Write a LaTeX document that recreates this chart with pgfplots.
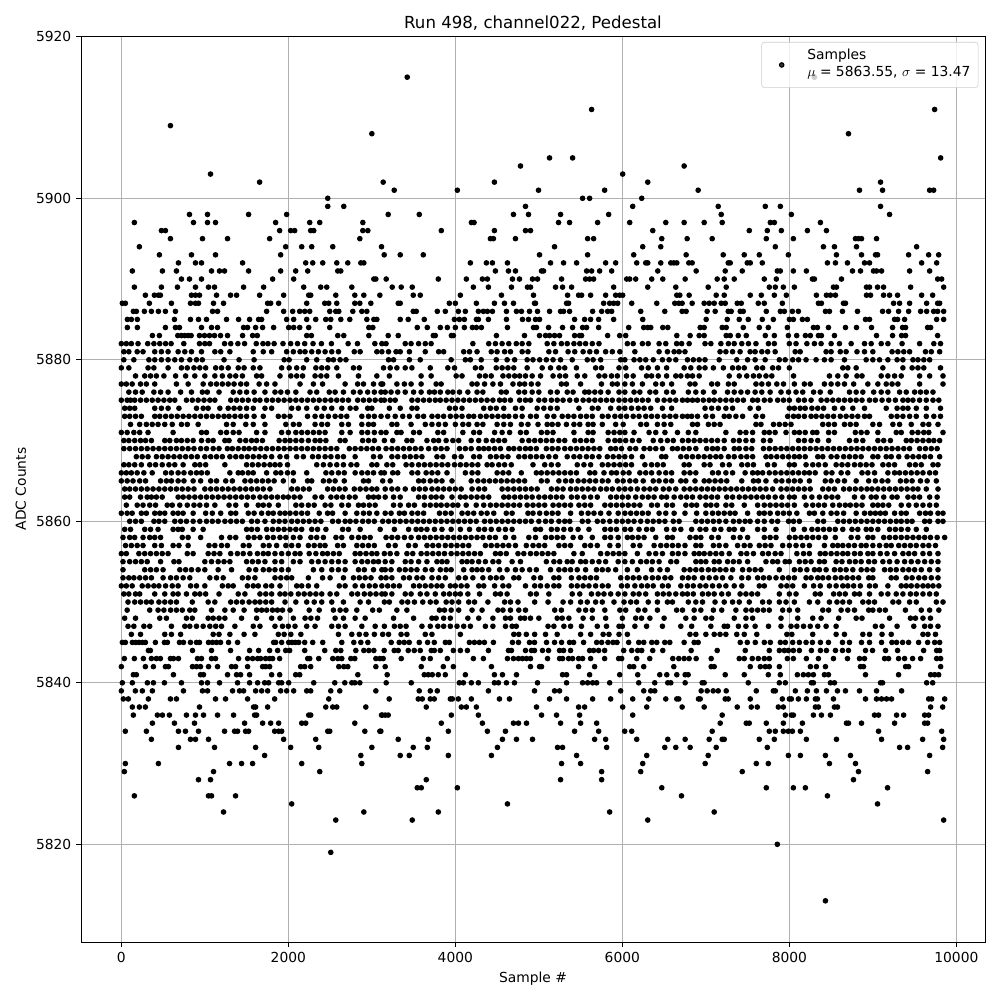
\documentclass[border=0pt]{standalone}
\usepackage{pgfplots}
\pgfplotsset{compat=1.18}
\usepackage{fontspec}
\setmainfont{DejaVu Sans}
\setsansfont{DejaVu Sans}
\pgfplotstableread{
x y
3424 5915
8300 5915
5632 5911
9740 5911
588 5909
3000 5908
8708 5908
5128 5905
5404 5905
9812 5905
4780 5904
6740 5904
1068 5903
6004 5903
1656 5902
3136 5902
4468 5902
6304 5902
9092 5902
3268 5901
4024 5901
4996 5901
5788 5901
6908 5901
8840 5901
9116 5901
9680 5901
9728 5901
2472 5900
5524 5900
5608 5900
6232 5900
2472 5899
2664 5899
4840 5899
6124 5899
7148 5899
7712 5899
7892 5899
9092 5899
816 5898
1032 5898
1524 5898
1980 5898
3196 5898
3568 5898
4696 5898
4876 5898
5260 5898
5836 5898
7184 5898
8024 5898
9200 5898
156 5897
864 5897
1032 5897
1128 5897
1848 5897
2256 5897
2376 5897
2892 5897
4192 5897
4224 5897
5236 5897
5368 5897
5704 5897
6088 5897
6520 5897
6740 5897
6980 5897
7196 5897
7772 5897
7820 5897
8372 5897
480 5896
528 5896
1896 5896
2028 5896
2076 5896
2268 5896
2304 5896
2892 5896
2952 5896
3832 5896
4468 5896
4840 5896
4900 5896
6364 5896
7520 5896
7736 5896
7904 5896
8216 5896
8444 5896
588 5895
972 5895
1272 5895
1776 5895
2856 5895
4420 5895
4456 5895
4720 5895
5584 5895
5656 5895
6472 5895
6776 5895
7076 5895
7724 5895
8048 5895
8792 5895
8828 5895
8864 5895
9044 5895
216 5894
1968 5894
2160 5894
2280 5894
2532 5894
3116 5894
5188 5894
6244 5894
6460 5894
7832 5894
8408 5894
8540 5894
8804 5894
9524 5894
456 5893
840 5893
1128 5893
1908 5893
3148 5893
3340 5893
3616 5893
5008 5893
5584 5893
6136 5893
6764 5893
7208 5893
7460 5893
7640 5893
7988 5893
8564 5893
8864 5893
9032 5893
9056 5893
9428 5893
9668 5893
9788 5893
684 5892
888 5892
960 5892
1452 5892
2208 5892
2292 5892
2412 5892
2580 5892
2712 5892
2868 5892
2904 5892
4180 5892
4372 5892
4444 5892
4624 5892
5140 5892
5296 5892
5452 5892
5800 5892
5920 5892
6172 5892
6280 5892
6304 5892
6460 5892
6580 5892
6616 5892
6652 5892
6796 5892
6836 5892
7268 5892
7292 5892
7496 5892
7532 5892
7676 5892
8456 5892
8552 5892
8696 5892
8900 5892
8960 5892
9584 5892
9764 5892
132 5891
492 5891
660 5891
1080 5891
1176 5891
1236 5891
1524 5891
1908 5891
2088 5891
2232 5891
2592 5891
2628 5891
4480 5891
4636 5891
4720 5891
5032 5891
5056 5891
5572 5891
5632 5891
5728 5891
5872 5891
6424 5891
6884 5891
7232 5891
7436 5891
7856 5891
7892 5891
8048 5891
8204 5891
8756 5891
8852 5891
9008 5891
9044 5891
9104 5891
9440 5891
9680 5891
720 5890
816 5890
960 5890
1812 5890
2064 5890
3024 5890
3048 5890
3172 5890
3796 5890
4132 5890
4324 5890
4384 5890
4684 5890
4768 5890
4924 5890
4984 5890
5272 5890
5560 5890
5608 5890
5656 5890
6052 5890
6088 5890
6160 5890
6352 5890
6484 5890
6752 5890
7136 5890
7220 5890
7340 5890
7700 5890
7844 5890
8276 5890
8300 5890
8624 5890
9776 5890
9824 5890
156 5889
480 5889
672 5889
888 5889
1044 5889
1116 5889
1464 5889
1704 5889
2184 5889
2388 5889
2460 5889
2760 5889
3244 5889
3352 5889
3484 5889
4216 5889
4396 5889
4672 5889
4864 5889
4900 5889
5200 5889
5284 5889
5392 5889
5896 5889
6304 5889
6640 5889
7028 5889
7244 5889
7760 5889
7832 5889
7928 5889
8060 5889
8528 5889
8564 5889
8924 5889
8960 5889
9056 5889
9128 5889
9452 5889
9848 5889
288 5888
396 5888
444 5888
468 5888
840 5888
888 5888
936 5888
1140 5888
1308 5888
1380 5888
1656 5888
1944 5888
2244 5888
2268 5888
2568 5888
2796 5888
2904 5888
3096 5888
3496 5888
3580 5888
4060 5888
4552 5888
4936 5888
5344 5888
5476 5888
5512 5888
5620 5888
5800 5888
5920 5888
5968 5888
6004 5888
6652 5888
6688 5888
6800 5888
7124 5888
7220 5888
7532 5888
7664 5888
7820 5888
7964 5888
8324 5888
8444 5888
8492 5888
8552 5888
8924 5888
8972 5888
9128 5888
9200 5888
9296 5888
9584 5888
9716 5888
12 5887
48 5887
336 5887
600 5887
828 5887
888 5887
924 5887
1104 5887
1224 5887
1752 5887
1788 5887
1884 5887
2220 5887
2436 5887
2484 5887
2580 5887
2796 5887
2856 5887
2988 5887
3316 5887
3340 5887
3928 5887
4000 5887
4252 5887
4468 5887
4588 5887
4696 5887
4948 5887
4960 5887
5332 5887
5356 5887
5776 5887
5848 5887
5896 5887
5944 5887
6112 5887
6412 5887
6628 5887
6676 5887
6716 5887
6836 5887
6980 5887
7040 5887
7100 5887
7184 5887
7232 5887
7376 5887
7424 5887
7628 5887
7700 5887
7916 5887
8348 5887
8384 5887
8648 5887
8672 5887
9248 5887
9320 5887
9440 5887
9644 5887
9776 5887
9800 5887
144 5886
180 5886
276 5886
360 5886
444 5886
528 5886
648 5886
1092 5886
1152 5886
1740 5886
1944 5886
2052 5886
2136 5886
2196 5886
2256 5886
2496 5886
2568 5886
2604 5886
2772 5886
2880 5886
2940 5886
3496 5886
3532 5886
3784 5886
3880 5886
4036 5886
4120 5886
4276 5886
4336 5886
4384 5886
4444 5886
4612 5886
4732 5886
4792 5886
4888 5886
4984 5886
5128 5886
5260 5886
5296 5886
5368 5886
5644 5886
5752 5886
5824 5886
5872 5886
6220 5886
6508 5886
6716 5886
6764 5886
7016 5886
7112 5886
7268 5886
7304 5886
7412 5886
7448 5886
7724 5886
7892 5886
7940 5886
8036 5886
8108 5886
8432 5886
8480 5886
8636 5886
8816 5886
9116 5886
9188 5886
9308 5886
9428 5886
9572 5886
9644 5886
9728 5886
9776 5886
9848 5886
72 5885
120 5885
192 5885
636 5885
828 5885
924 5885
1020 5885
1260 5885
1404 5885
1536 5885
1644 5885
1680 5885
1980 5885
2064 5885
2220 5885
2328 5885
2448 5885
2508 5885
2628 5885
2736 5885
2940 5885
3024 5885
3060 5885
3340 5885
3436 5885
3628 5885
3988 5885
4048 5885
4108 5885
4252 5885
4276 5885
4396 5885
4612 5885
4804 5885
4876 5885
4960 5885
5008 5885
5428 5885
5548 5885
5620 5885
5716 5885
5896 5885
6244 5885
7004 5885
7256 5885
7400 5885
7508 5885
7676 5885
7808 5885
8000 5885
8048 5885
8156 5885
8216 5885
8912 5885
8960 5885
9260 5885
9296 5885
9380 5885
9764 5885
9848 5885
72 5884
192 5884
528 5884
648 5884
696 5884
960 5884
1080 5884
1152 5884
1464 5884
1512 5884
1608 5884
1692 5884
1824 5884
2004 5884
2064 5884
2136 5884
2244 5884
2496 5884
2964 5884
3012 5884
3544 5884
3664 5884
3820 5884
3904 5884
4000 5884
4108 5884
4204 5884
4252 5884
4312 5884
4624 5884
4936 5884
4972 5884
5116 5884
5284 5884
5404 5884
5524 5884
5572 5884
5716 5884
6076 5884
6256 5884
6304 5884
6340 5884
6484 5884
6544 5884
6932 5884
6980 5884
7196 5884
7244 5884
7448 5884
7640 5884
7748 5884
7976 5884
8288 5884
8336 5884
8468 5884
8672 5884
8804 5884
8984 5884
9236 5884
9356 5884
9392 5884
9656 5884
9692 5884
372 5883
456 5883
676 5883
720 5883
760 5883
800 5883
836 5883
936 5883
996 5883
1056 5883
1116 5883
1188 5883
1272 5883
1452 5883
1572 5883
1628 5883
2220 5883
2276 5883
2592 5883
2664 5883
2964 5883
3196 5883
3316 5883
3736 5883
3760 5883
3952 5883
3976 5883
4492 5883
4828 5883
5008 5883
5080 5883
5128 5883
5188 5883
5248 5883
5428 5883
5488 5883
5512 5883
5824 5883
5968 5883
6040 5883
6652 5883
6812 5883
6920 5883
6980 5883
7244 5883
7292 5883
7388 5883
7484 5883
7712 5883
7820 5883
7988 5883
8088 5883
8192 5883
8252 5883
8348 5883
8384 5883
8540 5883
9044 5883
9236 5883
9344 5883
9392 5883
9776 5883
0 5882
60 5882
120 5882
200 5882
316 5882
390 5882
460 5882
530 5882
596 5882
748 5882
936 5882
1000 5882
1056 5882
1236 5882
1310 5882
1396 5882
1476 5882
1616 5882
1696 5882
1756 5882
1830 5882
1936 5882
2028 5882
2110 5882
2196 5882
2296 5882
2396 5882
2516 5882
2716 5882
2828 5882
3036 5882
3120 5882
3170 5882
3400 5882
3470 5882
3560 5882
3640 5882
3710 5882
4210 5882
4400 5882
4480 5882
4560 5882
4640 5882
4730 5882
4800 5882
4880 5882
5100 5882
5180 5882
5270 5882
5340 5882
5420 5882
5490 5882
5560 5882
5640 5882
5720 5882
6060 5882
6130 5882
6240 5882
6310 5882
6440 5882
6520 5882
6650 5882
6710 5882
6800 5882
6990 5882
7060 5882
7180 5882
7270 5882
7340 5882
7430 5882
7510 5882
7600 5882
7750 5882
7820 5882
8000 5882
8080 5882
8210 5882
8300 5882
8380 5882
8500 5882
8600 5882
8740 5882
8900 5882
8980 5882
9100 5882
9180 5882
9350 5882
9560 5882
9730 5882
9810 5882
30 5881
90 5881
190 5881
260 5881
400 5881
480 5881
560 5881
680 5881
760 5881
840 5881
960 5881
1120 5881
1190 5881
1300 5881
1580 5881
1700 5881
1800 5881
1980 5881
2060 5881
2140 5881
2200 5881
2280 5881
2360 5881
2440 5881
2520 5881
2600 5881
2790 5881
2860 5881
3060 5881
3120 5881
3200 5881
3290 5881
3340 5881
3450 5881
3640 5881
3800 5881
3860 5881
4100 5881
4170 5881
4260 5881
4430 5881
4500 5881
4590 5881
4660 5881
4800 5881
4870 5881
5120 5881
5200 5881
5350 5881
5430 5881
5530 5881
5610 5881
5690 5881
5800 5881
5880 5881
5970 5881
6150 5881
6440 5881
6540 5881
6620 5881
6680 5881
6750 5881
7170 5881
7240 5881
7320 5881
7410 5881
7530 5881
7590 5881
7670 5881
7740 5881
7830 5881
8070 5881
8130 5881
8440 5881
8500 5881
8610 5881
8680 5881
8810 5881
8900 5881
9000 5881
9230 5881
9300 5881
9370 5881
9440 5881
9630 5881
9700 5881
9800 5881
30 5880
150 5880
330 5880
400 5880
480 5880
560 5880
640 5880
720 5880
820 5880
900 5880
970 5880
1230 5880
1410 5880
1590 5880
1950 5880
2010 5880
2220 5880
2340 5880
2480 5880
2540 5880
2620 5880
2690 5880
3200 5880
3260 5880
3450 5880
3580 5880
3950 5880
4120 5880
4180 5880
4310 5880
4490 5880
4620 5880
4710 5880
4860 5880
4930 5880
5010 5880
5090 5880
5170 5880
5260 5880
5400 5880
5580 5880
5650 5880
5740 5880
5980 5880
6030 5880
6140 5880
6210 5880
6280 5880
6370 5880
6480 5880
6560 5880
6640 5880
6780 5880
6850 5880
6920 5880
6990 5880
7160 5880
7370 5880
7500 5880
7590 5880
7710 5880
7880 5880
7950 5880
8040 5880
8110 5880
8200 5880
8320 5880
8420 5880
8500 5880
8660 5880
8920 5880
9000 5880
9080 5880
9180 5880
9290 5880
9360 5880
9480 5880
9540 5880
9610 5880
9680 5880
0 5879
90 5879
320 5879
390 5879
560 5879
720 5879
790 5879
870 5879
940 5879
1010 5879
1130 5879
1200 5879
1280 5879
1400 5879
1470 5879
1580 5879
1660 5879
1920 5879
2010 5879
2100 5879
2180 5879
2330 5879
2400 5879
2470 5879
2580 5879
2780 5879
2850 5879
3140 5879
3220 5879
3300 5879
3400 5879
3480 5879
3700 5879
3910 5879
3990 5879
4240 5879
4310 5879
4490 5879
4560 5879
4630 5879
4700 5879
4860 5879
5040 5879
5140 5879
5240 5879
5310 5879
5450 5879
5680 5879
5750 5879
5960 5879
6040 5879
6230 5879
6310 5879
6420 5879
6530 5879
6740 5879
6820 5879
6920 5879
6990 5879
7090 5879
7210 5879
7320 5879
7390 5879
7460 5879
7610 5879
7680 5879
7800 5879
7870 5879
8000 5879
8640 5879
8700 5879
8800 5879
9120 5879
9360 5879
9470 5879
9540 5879
9610 5879
9810 5879
170 5878
280 5878
350 5878
420 5878
510 5878
650 5878
770 5878
880 5878
1000 5878
1120 5878
1210 5878
1300 5878
1370 5878
1450 5878
1620 5878
1680 5878
1900 5878
2030 5878
2100 5878
2170 5878
2320 5878
2390 5878
2460 5878
2600 5878
2840 5878
3060 5878
3210 5878
3590 5878
3710 5878
4010 5878
4080 5878
4290 5878
4360 5878
4430 5878
4570 5878
4640 5878
4710 5878
4770 5878
4840 5878
4920 5878
5020 5878
5170 5878
5250 5878
5320 5878
5460 5878
5550 5878
5720 5878
5790 5878
5870 5878
5940 5878
6050 5878
6130 5878
6290 5878
6350 5878
6430 5878
6530 5878
6640 5878
6700 5878
6780 5878
6840 5878
6920 5878
7280 5878
7400 5878
7490 5878
7570 5878
7640 5878
7720 5878
7790 5878
8050 5878
8480 5878
8580 5878
8680 5878
8810 5878
8870 5878
9100 5878
9180 5878
9260 5878
9340 5878
9560 5878
9680 5878
9840 5878
0 5877
60 5877
130 5877
230 5877
300 5877
400 5877
660 5877
800 5877
980 5877
1070 5877
1140 5877
1210 5877
1280 5877
1350 5877
1430 5877
1500 5877
1650 5877
1740 5877
1840 5877
2140 5877
2300 5877
2410 5877
2680 5877
2830 5877
2900 5877
3020 5877
3110 5877
3130 5877
3300 5877
3390 5877
3470 5877
3590 5877
3770 5877
3830 5877
4200 5877
4260 5877
4350 5877
4450 5877
4540 5877
4690 5877
4770 5877
4830 5877
4910 5877
4990 5877
5270 5877
5330 5877
5500 5877
5750 5877
5880 5877
5940 5877
6030 5877
6120 5877
6240 5877
6400 5877
6480 5877
6590 5877
6810 5877
6870 5877
7070 5877
7140 5877
7270 5877
7340 5877
7600 5877
7670 5877
7750 5877
7850 5877
7930 5877
8060 5877
8180 5877
8250 5877
8420 5877
8500 5877
8580 5877
8660 5877
8770 5877
8940 5877
9060 5877
9160 5877
9230 5877
9300 5877
9560 5877
9840 5877
90 5876
170 5876
250 5876
390 5876
470 5876
560 5876
710 5876
840 5876
970 5876
1030 5876
1170 5876
1340 5876
1420 5876
1500 5876
1590 5876
1720 5876
1840 5876
1910 5876
1990 5876
2090 5876
2260 5876
2340 5876
2490 5876
2560 5876
2660 5876
2780 5876
2860 5876
2950 5876
3030 5876
3110 5876
3160 5876
3230 5876
3310 5876
3400 5876
3500 5876
3590 5876
3690 5876
3750 5876
3820 5876
3910 5876
3970 5876
4050 5876
4150 5876
4260 5876
4330 5876
4550 5876
4610 5876
4760 5876
4830 5876
4920 5876
5000 5876
5140 5876
5220 5876
5340 5876
5410 5876
5550 5876
5600 5876
5670 5876
5740 5876
5830 5876
5960 5876
6030 5876
6140 5876
6210 5876
6330 5876
6400 5876
6530 5876
6610 5876
6790 5876
6880 5876
6970 5876
7100 5876
7260 5876
7340 5876
7420 5876
7500 5876
7590 5876
7670 5876
7770 5876
7900 5876
7990 5876
8080 5876
8160 5876
8290 5876
8370 5876
8490 5876
8720 5876
8800 5876
8880 5876
9010 5876
9100 5876
9180 5876
9320 5876
9400 5876
9500 5876
9570 5876
9640 5876
9720 5876
0 5875
70 5875
110 5875
160 5875
230 5875
300 5875
370 5875
440 5875
510 5875
580 5875
640 5875
780 5875
850 5875
920 5875
990 5875
1060 5875
1120 5875
1310 5875
1380 5875
1450 5875
1520 5875
1600 5875
1660 5875
1740 5875
1810 5875
1880 5875
1950 5875
2020 5875
2090 5875
2160 5875
2230 5875
2300 5875
2370 5875
2440 5875
2510 5875
2580 5875
2650 5875
2720 5875
2830 5875
2900 5875
2970 5875
3040 5875
3110 5875
3150 5875
3220 5875
3280 5875
3480 5875
3550 5875
3620 5875
3690 5875
3760 5875
3820 5875
3890 5875
3960 5875
4030 5875
4100 5875
4170 5875
4240 5875
4310 5875
4380 5875
4450 5875
4530 5875
4590 5875
4660 5875
4770 5875
4840 5875
4900 5875
5000 5875
5070 5875
5150 5875
5220 5875
5290 5875
5370 5875
5450 5875
5530 5875
5600 5875
5670 5875
5740 5875
5810 5875
5880 5875
5960 5875
6030 5875
6100 5875
6170 5875
6240 5875
6310 5875
6420 5875
6500 5875
6570 5875
6640 5875
6720 5875
6780 5875
6840 5875
6900 5875
6970 5875
7040 5875
7100 5875
7170 5875
7240 5875
7310 5875
7380 5875
7450 5875
7560 5875
7620 5875
7700 5875
7770 5875
7860 5875
7930 5875
8000 5875
8110 5875
8180 5875
8260 5875
8380 5875
8450 5875
8520 5875
8590 5875
8660 5875
8730 5875
8800 5875
8870 5875
8960 5875
9030 5875
9110 5875
9190 5875
9270 5875
9360 5875
9420 5875
9480 5875
9560 5875
9640 5875
9720 5875
9790 5875
40 5874
100 5874
160 5874
400 5874
480 5874
560 5874
690 5874
900 5874
980 5874
1040 5874
1180 5874
1280 5874
1350 5874
1420 5874
1500 5874
1580 5874
1720 5874
1800 5874
2040 5874
2120 5874
2220 5874
2340 5874
2430 5874
2520 5874
2640 5874
2740 5874
2810 5874
2950 5874
3000 5874
3210 5874
3340 5874
3480 5874
3540 5874
3930 5874
4000 5874
4080 5874
4340 5874
4420 5874
4490 5874
4580 5874
4720 5874
4800 5874
4980 5874
5060 5874
5140 5874
5220 5874
5480 5874
5640 5874
5710 5874
5860 5874
5960 5874
6030 5874
6110 5874
6190 5874
6260 5874
6340 5874
6480 5874
6590 5874
6990 5874
7070 5874
7150 5874
7240 5874
7320 5874
7530 5874
7630 5874
8000 5874
8060 5874
8130 5874
8190 5874
8270 5874
8340 5874
8410 5874
8540 5874
8640 5874
8760 5874
8900 5874
9160 5874
9290 5874
9360 5874
9420 5874
9520 5874
9640 5874
9810 5874
40 5873
100 5873
170 5873
240 5873
400 5873
460 5873
530 5873
600 5873
670 5873
740 5873
810 5873
880 5873
950 5873
1020 5873
1090 5873
1160 5873
1230 5873
1290 5873
1360 5873
1430 5873
1500 5873
1590 5873
1700 5873
1880 5873
1950 5873
2020 5873
2230 5873
2320 5873
2400 5873
2480 5873
2560 5873
2630 5873
2700 5873
2880 5873
2960 5873
3030 5873
3110 5873
3190 5873
3280 5873
3370 5873
3450 5873
3550 5873
3620 5873
3720 5873
3790 5873
3860 5873
3940 5873
4010 5873
4080 5873
4160 5873
4220 5873
4300 5873
4370 5873
4440 5873
4510 5873
4580 5873
4640 5873
4720 5873
4800 5873
4900 5873
4970 5873
5100 5873
5180 5873
5280 5873
5350 5873
5420 5873
5500 5873
5570 5873
5640 5873
5760 5873
5830 5873
5910 5873
5980 5873
6050 5873
6130 5873
6200 5873
6280 5873
6350 5873
6420 5873
6500 5873
6570 5873
6640 5873
6720 5873
6780 5873
6830 5873
6900 5873
7000 5873
7080 5873
7220 5873
7280 5873
7360 5873
7440 5873
7600 5873
7680 5873
7980 5873
8050 5873
8110 5873
8180 5873
8260 5873
8320 5873
8390 5873
8460 5873
8530 5873
8610 5873
8680 5873
8750 5873
8820 5873
8900 5873
8960 5873
9220 5873
9290 5873
9360 5873
9440 5873
9520 5873
9640 5873
9730 5873
9810 5873
110 5872
220 5872
300 5872
370 5872
440 5872
520 5872
610 5872
720 5872
790 5872
920 5872
1260 5872
1340 5872
1490 5872
1580 5872
1720 5872
1970 5872
2060 5872
2130 5872
2320 5872
2400 5872
2470 5872
2640 5872
2720 5872
2880 5872
2960 5872
3020 5872
3240 5872
3300 5872
3470 5872
3640 5872
3720 5872
3800 5872
3880 5872
4000 5872
4090 5872
4160 5872
4260 5872
4330 5872
4500 5872
4580 5872
4660 5872
4790 5872
4870 5872
4990 5872
5100 5872
5160 5872
5230 5872
5330 5872
5420 5872
5490 5872
5590 5872
5650 5872
5760 5872
5920 5872
6010 5872
6220 5872
6290 5872
6420 5872
6500 5872
6580 5872
6840 5872
6900 5872
7030 5872
7100 5872
7170 5872
7600 5872
7660 5872
7810 5872
7880 5872
7950 5872
8020 5872
8400 5872
8470 5872
8540 5872
8660 5872
8730 5872
8800 5872
9000 5872
9080 5872
9240 5872
9320 5872
9460 5872
9600 5872
9670 5872
9780 5872
0 5871
70 5871
150 5871
220 5871
320 5871
620 5871
960 5871
1020 5871
1190 5871
1260 5871
1340 5871
1410 5871
1620 5871
1720 5871
1920 5871
2000 5871
2090 5871
2160 5871
2230 5871
2300 5871
2370 5871
2440 5871
2640 5871
2740 5871
2880 5871
2950 5871
3030 5871
3110 5871
3170 5871
3300 5871
3350 5871
3500 5871
3570 5871
3790 5871
3860 5871
4090 5871
4220 5871
4290 5871
4470 5871
4560 5871
4650 5871
4780 5871
4850 5871
5030 5871
5100 5871
5170 5871
5420 5871
5590 5871
5650 5871
5830 5871
5900 5871
5970 5871
6030 5871
6140 5871
6320 5871
6400 5871
6510 5871
6660 5871
6790 5871
6880 5871
7240 5871
7410 5871
7480 5871
7560 5871
7700 5871
7760 5871
7830 5871
7960 5871
8060 5871
8120 5871
8190 5871
8280 5871
8330 5871
8470 5871
8540 5871
8790 5871
8860 5871
8930 5871
9060 5871
9280 5871
9340 5871
9470 5871
9540 5871
9610 5871
9670 5871
9840 5871
30 5870
90 5870
160 5870
230 5870
290 5870
360 5870
520 5870
580 5870
660 5870
720 5870
790 5870
860 5870
960 5870
1040 5870
1100 5870
1240 5870
1290 5870
1420 5870
1490 5870
1560 5870
1620 5870
1690 5870
1890 5870
1960 5870
2020 5870
2090 5870
2160 5870
2240 5870
2320 5870
2380 5870
2450 5870
2620 5870
2680 5870
2890 5870
2960 5870
3030 5870
3150 5870
3250 5870
3420 5870
3480 5870
3660 5870
3740 5870
3800 5870
3890 5870
3970 5870
4040 5870
4190 5870
4280 5870
4370 5870
4450 5870
4520 5870
4590 5870
4800 5870
4880 5870
4950 5870
5020 5870
5090 5870
5160 5870
5240 5870
5310 5870
5430 5870
5500 5870
5570 5870
5640 5870
5830 5870
5910 5870
5970 5870
6040 5870
6120 5870
6200 5870
6370 5870
6460 5870
6540 5870
6610 5870
6720 5870
6790 5870
6860 5870
6930 5870
7000 5870
7070 5870
7140 5870
7220 5870
7330 5870
7400 5870
7480 5870
7560 5870
7690 5870
7770 5870
8110 5870
8180 5870
8260 5870
8340 5870
8470 5870
8720 5870
8800 5870
8880 5870
9060 5870
9130 5870
9210 5870
9400 5870
9460 5870
9530 5870
9600 5870
9670 5870
9730 5870
9800 5870
30 5869
100 5869
170 5869
240 5869
310 5869
380 5869
450 5869
520 5869
590 5869
660 5869
730 5869
800 5869
870 5869
950 5869
1020 5869
1100 5869
1170 5869
1270 5869
1330 5869
1400 5869
1470 5869
1530 5869
1600 5869
1670 5869
1740 5869
1810 5869
1880 5869
1950 5869
2020 5869
2090 5869
2160 5869
2230 5869
2300 5869
2370 5869
2440 5869
2510 5869
2580 5869
2730 5869
2800 5869
2870 5869
2940 5869
3010 5869
3080 5869
3170 5869
3240 5869
3310 5869
3380 5869
3450 5869
3520 5869
3590 5869
3680 5869
3760 5869
3830 5869
3900 5869
4050 5869
4120 5869
4190 5869
4280 5869
4340 5869
4400 5869
4470 5869
4540 5869
4640 5869
4700 5869
4770 5869
4840 5869
4900 5869
4970 5869
5090 5869
5160 5869
5230 5869
5310 5869
5380 5869
5450 5869
5520 5869
5590 5869
5660 5869
5730 5869
5860 5869
5920 5869
5990 5869
6090 5869
6160 5869
6260 5869
6330 5869
6400 5869
6480 5869
6600 5869
6660 5869
6730 5869
6800 5869
6880 5869
7010 5869
7080 5869
7140 5869
7220 5869
7340 5869
7400 5869
7480 5869
7550 5869
7690 5869
7760 5869
7830 5869
7900 5869
7970 5869
8040 5869
8110 5869
8180 5869
8250 5869
8320 5869
8390 5869
8460 5869
8530 5869
8600 5869
8670 5869
8740 5869
8810 5869
8880 5869
8950 5869
9020 5869
9090 5869
9160 5869
9230 5869
9300 5869
9370 5869
9440 5869
9560 5869
9630 5869
9700 5869
9770 5869
180 5868
250 5868
320 5868
420 5868
490 5868
560 5868
630 5868
700 5868
770 5868
840 5868
910 5868
1000 5868
1070 5868
1140 5868
1210 5868
1300 5868
1370 5868
1440 5868
1510 5868
1580 5868
1650 5868
1720 5868
1800 5868
1900 5868
1980 5868
2100 5868
2180 5868
2290 5868
2360 5868
2440 5868
2510 5868
2590 5868
2660 5868
2800 5868
3020 5868
3100 5868
3240 5868
3310 5868
3390 5868
3460 5868
3530 5868
3600 5868
3780 5868
3850 5868
3990 5868
4070 5868
4220 5868
4290 5868
4420 5868
4490 5868
4560 5868
4630 5868
4760 5868
4830 5868
4900 5868
4970 5868
5040 5868
5120 5868
5200 5868
5340 5868
5420 5868
5490 5868
5570 5868
5640 5868
5720 5868
5820 5868
5890 5868
5960 5868
6030 5868
6110 5868
6240 5868
6470 5868
6520 5868
6700 5868
6770 5868
6840 5868
6910 5868
6980 5868
7050 5868
7120 5868
7180 5868
7270 5868
7340 5868
7420 5868
7490 5868
7560 5868
7720 5868
7780 5868
7850 5868
7920 5868
7990 5868
8060 5868
8120 5868
8190 5868
8340 5868
8400 5868
8500 5868
8570 5868
8650 5868
8720 5868
8790 5868
8860 5868
9000 5868
9060 5868
9160 5868
9220 5868
9310 5868
9410 5868
9480 5868
9550 5868
9620 5868
9690 5868
9800 5868
30 5867
90 5867
160 5867
240 5867
340 5867
410 5867
490 5867
570 5867
640 5867
740 5867
880 5867
940 5867
1010 5867
1240 5867
1500 5867
1570 5867
1640 5867
1710 5867
1780 5867
1840 5867
1900 5867
1990 5867
2340 5867
2420 5867
2500 5867
2580 5867
2660 5867
2750 5867
2820 5867
3000 5867
3060 5867
3180 5867
3250 5867
3410 5867
3480 5867
3560 5867
3630 5867
3700 5867
3770 5867
3840 5867
3910 5867
3990 5867
4060 5867
4130 5867
4200 5867
4270 5867
4380 5867
4440 5867
4520 5867
4590 5867
4670 5867
4930 5867
5070 5867
5150 5867
5230 5867
5460 5867
5540 5867
5620 5867
5760 5867
5830 5867
5900 5867
5970 5867
6040 5867
6110 5867
6270 5867
6350 5867
6420 5867
6490 5867
6740 5867
6800 5867
6980 5867
7050 5867
7200 5867
7280 5867
7430 5867
7500 5867
7570 5867
7740 5867
7820 5867
8000 5867
8060 5867
8200 5867
8280 5867
8350 5867
8430 5867
8560 5867
8630 5867
8700 5867
8780 5867
8850 5867
8920 5867
8990 5867
9120 5867
9190 5867
9260 5867
9440 5867
9510 5867
9580 5867
9720 5867
9780 5867
0 5866
60 5866
120 5866
190 5866
270 5866
370 5866
530 5866
600 5866
680 5866
750 5866
830 5866
900 5866
960 5866
1030 5866
1300 5866
1400 5866
1450 5866
1520 5866
1580 5866
1740 5866
1850 5866
1910 5866
1990 5866
2060 5866
2220 5866
2450 5866
2520 5866
2600 5866
2670 5866
2800 5866
2880 5866
2950 5866
3020 5866
3110 5866
3150 5866
3250 5866
3310 5866
3480 5866
3550 5866
3650 5866
3720 5866
3790 5866
3900 5866
4120 5866
4200 5866
4270 5866
4500 5866
4570 5866
4640 5866
4790 5866
4970 5866
5030 5866
5100 5866
5170 5866
5240 5866
5310 5866
5380 5866
5450 5866
5610 5866
5670 5866
5780 5866
5870 5866
5930 5866
6010 5866
6080 5866
6210 5866
6280 5866
6350 5866
6440 5866
6520 5866
6590 5866
6740 5866
6810 5866
6880 5866
7080 5866
7150 5866
7240 5866
7320 5866
7470 5866
7560 5866
7620 5866
7680 5866
7760 5866
7830 5866
7900 5866
7970 5866
8040 5866
8110 5866
8180 5866
8240 5866
8310 5866
8440 5866
8510 5866
8620 5866
8700 5866
8870 5866
8940 5866
9020 5866
9180 5866
9260 5866
9320 5866
9390 5866
9460 5866
9530 5866
9600 5866
9680 5866
9750 5866
0 5865
70 5865
140 5865
220 5865
290 5865
470 5865
540 5865
600 5865
680 5865
750 5865
860 5865
950 5865
1070 5865
1140 5865
1250 5865
1330 5865
1480 5865
1550 5865
1620 5865
1690 5865
1760 5865
1830 5865
1940 5865
2060 5865
2230 5865
2280 5865
2420 5865
2490 5865
2560 5865
2670 5865
2900 5865
2960 5865
3130 5865
3220 5865
3560 5865
3620 5865
3700 5865
3770 5865
3840 5865
3960 5865
4190 5865
4270 5865
4340 5865
4410 5865
4480 5865
4550 5865
4620 5865
4690 5865
4760 5865
4830 5865
5030 5865
5100 5865
5240 5865
5320 5865
5390 5865
5470 5865
5540 5865
5610 5865
5680 5865
5760 5865
5830 5865
5940 5865
6010 5865
6090 5865
6160 5865
6250 5865
6370 5865
6440 5865
6520 5865
6590 5865
6700 5865
6760 5865
6870 5865
6980 5865
7040 5865
7110 5865
7180 5865
7250 5865
7430 5865
7570 5865
7630 5865
7720 5865
7840 5865
7910 5865
7990 5865
8060 5865
8130 5865
8240 5865
8430 5865
8500 5865
8580 5865
8660 5865
8800 5865
8950 5865
9030 5865
9110 5865
9180 5865
9330 5865
9400 5865
9470 5865
9570 5865
9650 5865
9760 5865
40 5864
100 5864
170 5864
240 5864
310 5864
380 5864
450 5864
520 5864
590 5864
660 5864
730 5864
800 5864
870 5864
1000 5864
1070 5864
1140 5864
1210 5864
1280 5864
1350 5864
1420 5864
1490 5864
1560 5864
1630 5864
1700 5864
1780 5864
2040 5864
2110 5864
2180 5864
2250 5864
2470 5864
2540 5864
2610 5864
2680 5864
2790 5864
2860 5864
2930 5864
3000 5864
3060 5864
3160 5864
3240 5864
3310 5864
3400 5864
3500 5864
3570 5864
3640 5864
3720 5864
3790 5864
3860 5864
3930 5864
4000 5864
4070 5864
4200 5864
4280 5864
4350 5864
4560 5864
4630 5864
4700 5864
4770 5864
4840 5864
4910 5864
4980 5864
5150 5864
5220 5864
5290 5864
5380 5864
5450 5864
5520 5864
5590 5864
5660 5864
5740 5864
5810 5864
5880 5864
5960 5864
6030 5864
6100 5864
6180 5864
6260 5864
6330 5864
6400 5864
6490 5864
6560 5864
6640 5864
6740 5864
6810 5864
6880 5864
6950 5864
7020 5864
7090 5864
7160 5864
7230 5864
7300 5864
7370 5864
7440 5864
7510 5864
7580 5864
7650 5864
7720 5864
7800 5864
7900 5864
7970 5864
8040 5864
8110 5864
8180 5864
8250 5864
8400 5864
8470 5864
8540 5864
8650 5864
8720 5864
8790 5864
8860 5864
8930 5864
8990 5864
9060 5864
9130 5864
9200 5864
9270 5864
9340 5864
9410 5864
9480 5864
9540 5864
9640 5864
9780 5864
40 5863
100 5863
230 5863
310 5863
360 5863
420 5863
490 5863
680 5863
740 5863
810 5863
880 5863
950 5863
1020 5863
1090 5863
1160 5863
1230 5863
1300 5863
1370 5863
1440 5863
1510 5863
1580 5863
1660 5863
1730 5863
1800 5863
1870 5863
1940 5863
2000 5863
2070 5863
2140 5863
2320 5863
2400 5863
2510 5863
2580 5863
2650 5863
2730 5863
2800 5863
2960 5863
3020 5863
3080 5863
3160 5863
3260 5863
3340 5863
3560 5863
3630 5863
3710 5863
3770 5863
3840 5863
3960 5863
4060 5863
4120 5863
4190 5863
4260 5863
4330 5863
4400 5863
4580 5863
4640 5863
4710 5863
4780 5863
4850 5863
4920 5863
5000 5863
5070 5863
5140 5863
5210 5863
5280 5863
5390 5863
5460 5863
5540 5863
5620 5863
5700 5863
5860 5863
5930 5863
6000 5863
6070 5863
6160 5863
6240 5863
6310 5863
6380 5863
6470 5863
6530 5863
6620 5863
6700 5863
6770 5863
6840 5863
6930 5863
7000 5863
7070 5863
7140 5863
7250 5863
7320 5863
7400 5863
7470 5863
7540 5863
7610 5863
7680 5863
7750 5863
7830 5863
7910 5863
8000 5863
8060 5863
8180 5863
8270 5863
8360 5863
8440 5863
8510 5863
8580 5863
8780 5863
8880 5863
8980 5863
9040 5863
9130 5863
9230 5863
9290 5863
9420 5863
9490 5863
9560 5863
9680 5863
9770 5863
60 5862
190 5862
260 5862
340 5862
410 5862
550 5862
610 5862
700 5862
790 5862
870 5862
940 5862
1020 5862
1120 5862
1290 5862
1370 5862
1500 5862
1640 5862
1700 5862
1770 5862
1880 5862
2090 5862
2160 5862
2240 5862
2310 5862
2440 5862
2510 5862
2640 5862
2720 5862
2840 5862
2900 5862
2970 5862
3040 5862
3260 5862
3340 5862
3440 5862
3510 5862
3630 5862
3700 5862
3770 5862
3830 5862
3900 5862
3970 5862
4030 5862
4130 5862
4250 5862
4340 5862
4420 5862
4490 5862
4560 5862
4630 5862
4700 5862
4770 5862
4860 5862
4930 5862
5000 5862
5070 5862
5170 5862
5240 5862
5310 5862
5380 5862
5480 5862
5550 5862
5620 5862
5790 5862
5860 5862
5930 5862
6000 5862
6070 5862
6140 5862
6210 5862
6350 5862
6420 5862
6530 5862
6600 5862
6760 5862
6830 5862
6890 5862
7000 5862
7060 5862
7130 5862
7240 5862
7310 5862
7460 5862
7620 5862
7700 5862
7770 5862
7840 5862
7910 5862
7980 5862
8060 5862
8200 5862
8280 5862
8350 5862
8420 5862
8520 5862
8600 5862
8670 5862
8730 5862
8800 5862
8870 5862
9000 5862
9060 5862
9120 5862
9190 5862
9340 5862
9430 5862
9520 5862
9600 5862
9680 5862
9760 5862
0 5861
70 5861
130 5861
240 5861
300 5861
400 5861
460 5861
520 5861
620 5861
680 5861
740 5861
860 5861
1010 5861
1090 5861
1190 5861
1310 5861
1370 5861
1520 5861
1590 5861
1680 5861
1760 5861
1820 5861
1900 5861
1960 5861
2020 5861
2090 5861
2160 5861
2230 5861
2370 5861
2470 5861
2530 5861
2680 5861
2820 5861
2900 5861
2970 5861
3060 5861
3160 5861
3230 5861
3330 5861
3390 5861
3480 5861
3550 5861
3620 5861
3810 5861
3880 5861
3950 5861
4080 5861
4150 5861
4220 5861
4310 5861
4380 5861
4460 5861
4610 5861
4680 5861
4870 5861
4930 5861
5010 5861
5090 5861
5160 5861
5230 5861
5380 5861
5510 5861
5590 5861
5660 5861
5740 5861
5840 5861
5950 5861
6030 5861
6100 5861
6170 5861
6240 5861
6310 5861
6440 5861
6520 5861
6620 5861
6750 5861
6890 5861
7000 5861
7080 5861
7150 5861
7220 5861
7290 5861
7350 5861
7500 5861
7640 5861
7700 5861
7770 5861
7860 5861
7930 5861
8000 5861
8090 5861
8240 5861
8300 5861
8400 5861
8500 5861
8570 5861
8650 5861
8800 5861
8900 5861
8970 5861
9030 5861
9090 5861
9150 5861
9260 5861
9340 5861
9400 5861
9560 5861
9630 5861
9690 5861
9780 5861
9840 5861
100 5860
170 5860
240 5860
390 5860
450 5860
520 5860
640 5860
710 5860
780 5860
860 5860
940 5860
1020 5860
1090 5860
1160 5860
1240 5860
1310 5860
1380 5860
1450 5860
1560 5860
1630 5860
1720 5860
1820 5860
1890 5860
1960 5860
2040 5860
2110 5860
2180 5860
2250 5860
2320 5860
2390 5860
2530 5860
2600 5860
2680 5860
2740 5860
2810 5860
2890 5860
2960 5860
3030 5860
3130 5860
3200 5860
3270 5860
3340 5860
3410 5860
3480 5860
3550 5860
3620 5860
3690 5860
3760 5860
3830 5860
3900 5860
3970 5860
4040 5860
4110 5860
4180 5860
4250 5860
4350 5860
4420 5860
4490 5860
4560 5860
4630 5860
4700 5860
4770 5860
4840 5860
4910 5860
5000 5860
5080 5860
5150 5860
5240 5860
5310 5860
5370 5860
5520 5860
5590 5860
5700 5860
5770 5860
5850 5860
5930 5860
6000 5860
6070 5860
6140 5860
6220 5860
6300 5860
6370 5860
6440 5860
6510 5860
6610 5860
6680 5860
6880 5860
6950 5860
7020 5860
7090 5860
7160 5860
7240 5860
7330 5860
7400 5860
7470 5860
7530 5860
7620 5860
7700 5860
7790 5860
7860 5860
7990 5860
8050 5860
8120 5860
8340 5860
8410 5860
8580 5860
8650 5860
8720 5860
8790 5860
8860 5860
8930 5860
9000 5860
9070 5860
9140 5860
9210 5860
9280 5860
9340 5860
9410 5860
9470 5860
9620 5860
9680 5860
9780 5860
9840 5860
40 5859
110 5859
280 5859
350 5859
440 5859
620 5859
680 5859
730 5859
860 5859
980 5859
1500 5859
1560 5859
1630 5859
1740 5859
1810 5859
1880 5859
1950 5859
2020 5859
2090 5859
2160 5859
2280 5859
2350 5859
2450 5859
2650 5859
2720 5859
2860 5859
3100 5859
3270 5859
3440 5859
3530 5859
3590 5859
3660 5859
3750 5859
3840 5859
3950 5859
4060 5859
4170 5859
4280 5859
4350 5859
4430 5859
4520 5859
4600 5859
4680 5859
4960 5859
5020 5859
5150 5859
5220 5859
5300 5859
5380 5859
5470 5859
5600 5859
5790 5859
5860 5859
5930 5859
6030 5859
6100 5859
6200 5859
6290 5859
6360 5859
6530 5859
6620 5859
6700 5859
6830 5859
6930 5859
7000 5859
7100 5859
7180 5859
7280 5859
7340 5859
7440 5859
7620 5859
7700 5859
7840 5859
8050 5859
8180 5859
8270 5859
8340 5859
8410 5859
8480 5859
8550 5859
8640 5859
8750 5859
8820 5859
8920 5859
8980 5859
9060 5859
9200 5859
9270 5859
9340 5859
9420 5859
9520 5859
9640 5859
20 5858
100 5858
160 5858
260 5858
340 5858
400 5858
470 5858
730 5858
800 5858
950 5858
1200 5858
1300 5858
1370 5858
1520 5858
1590 5858
1660 5858
1750 5858
1820 5858
1900 5858
1970 5858
2060 5858
2140 5858
2270 5858
2340 5858
2420 5858
2570 5858
2640 5858
2760 5858
2840 5858
2910 5858
2980 5858
3170 5858
3240 5858
3310 5858
3390 5858
3470 5858
3560 5858
3630 5858
3700 5858
3770 5858
3840 5858
3910 5858
3980 5858
4050 5858
4120 5858
4190 5858
4260 5858
4330 5858
4410 5858
4480 5858
4600 5858
4700 5858
4880 5858
4960 5858
5080 5858
5150 5858
5220 5858
5290 5858
5410 5858
5500 5858
5640 5858
5790 5858
5860 5858
5950 5858
6060 5858
6120 5858
6190 5858
6260 5858
6400 5858
6540 5858
6600 5858
6810 5858
6880 5858
6940 5858
7070 5858
7150 5858
7330 5858
7410 5858
7500 5858
7700 5858
7770 5858
7840 5858
8000 5858
8070 5858
8140 5858
8210 5858
8280 5858
8350 5858
8430 5858
8550 5858
8740 5858
8820 5858
8940 5858
9000 5858
9130 5858
9200 5858
9270 5858
9340 5858
9410 5858
9480 5858
9550 5858
9620 5858
9690 5858
9770 5858
9860 5858
50 5857
120 5857
190 5857
260 5857
400 5857
480 5857
620 5857
690 5857
800 5857
1050 5857
1120 5857
1200 5857
1270 5857
1460 5857
1530 5857
1700 5857
1770 5857
1860 5857
1970 5857
2040 5857
2120 5857
2240 5857
2310 5857
2380 5857
2440 5857
2590 5857
2660 5857
2820 5857
2890 5857
2960 5857
3030 5857
3200 5857
3280 5857
3440 5857
3520 5857
3660 5857
3730 5857
3800 5857
3880 5857
3950 5857
4020 5857
4090 5857
4160 5857
4360 5857
4430 5857
4500 5857
4570 5857
4640 5857
4720 5857
4850 5857
4930 5857
5000 5857
5070 5857
5240 5857
5310 5857
5380 5857
5550 5857
5620 5857
5700 5857
5850 5857
5950 5857
6130 5857
6210 5857
6380 5857
6460 5857
6530 5857
6600 5857
6670 5857
6750 5857
6880 5857
6940 5857
7090 5857
7160 5857
7240 5857
7380 5857
7460 5857
7530 5857
7640 5857
7710 5857
7780 5857
7920 5857
8000 5857
8080 5857
8160 5857
8240 5857
8420 5857
8520 5857
8580 5857
8640 5857
8710 5857
8780 5857
8860 5857
8920 5857
9000 5857
9080 5857
9160 5857
9220 5857
9310 5857
9380 5857
9450 5857
9520 5857
9600 5857
9670 5857
9750 5857
0 5856
60 5856
210 5856
280 5856
350 5856
420 5856
490 5856
560 5856
790 5856
860 5856
1040 5856
1110 5856
1180 5856
1310 5856
1390 5856
1460 5856
1540 5856
1630 5856
1700 5856
1760 5856
1840 5856
1920 5856
2000 5856
2080 5856
2140 5856
2250 5856
2330 5856
2410 5856
2470 5856
2540 5856
2610 5856
2800 5856
2860 5856
2930 5856
3000 5856
3060 5856
3150 5856
3220 5856
3300 5856
3420 5856
3490 5856
3590 5856
3660 5856
3730 5856
3800 5856
3870 5856
3950 5856
4020 5856
4090 5856
4160 5856
4230 5856
4300 5856
4480 5856
4540 5856
4610 5856
4750 5856
4820 5856
4900 5856
4970 5856
5040 5856
5110 5856
5180 5856
5420 5856
5520 5856
5740 5856
5820 5856
5890 5856
5960 5856
6030 5856
6180 5856
6320 5856
6400 5856
6480 5856
6600 5856
6670 5856
6750 5856
6860 5856
6920 5856
6980 5856
7050 5856
7120 5856
7190 5856
7280 5856
7420 5856
7490 5856
7570 5856
7680 5856
7750 5856
7830 5856
7900 5856
8090 5856
8170 5856
8240 5856
8370 5856
8430 5856
8500 5856
8570 5856
8640 5856
8700 5856
8780 5856
8850 5856
8940 5856
9000 5856
9090 5856
9170 5856
9260 5856
9360 5856
9430 5856
9500 5856
9600 5856
9680 5856
9780 5856
20 5855
100 5855
170 5855
240 5855
310 5855
470 5855
630 5855
690 5855
1000 5855
1080 5855
1160 5855
1230 5855
1300 5855
1500 5855
1570 5855
1640 5855
1720 5855
1840 5855
1920 5855
2060 5855
2140 5855
2280 5855
2360 5855
2440 5855
2520 5855
2600 5855
2680 5855
2800 5855
2880 5855
2950 5855
3020 5855
3080 5855
3160 5855
3240 5855
3400 5855
3470 5855
3560 5855
3660 5855
3780 5855
3840 5855
3900 5855
4080 5855
4140 5855
4200 5855
4280 5855
4360 5855
4450 5855
4520 5855
4680 5855
4780 5855
5090 5855
5180 5855
5250 5855
5340 5855
5400 5855
5500 5855
5560 5855
5640 5855
5720 5855
5800 5855
5950 5855
6030 5855
6120 5855
6220 5855
6290 5855
6360 5855
6440 5855
6580 5855
6650 5855
6880 5855
6940 5855
7000 5855
7100 5855
7160 5855
7260 5855
7330 5855
7400 5855
7500 5855
7720 5855
7800 5855
7860 5855
7950 5855
8000 5855
8120 5855
8190 5855
8260 5855
8360 5855
8420 5855
8560 5855
8630 5855
8720 5855
8790 5855
8860 5855
8950 5855
9020 5855
9120 5855
9200 5855
9290 5855
9380 5855
9460 5855
9540 5855
9620 5855
9700 5855
9780 5855
20 5854
280 5854
350 5854
420 5854
500 5854
700 5854
770 5854
840 5854
920 5854
1000 5854
1160 5854
1320 5854
1530 5854
1610 5854
1700 5854
1770 5854
1840 5854
1920 5854
2000 5854
2300 5854
2400 5854
2520 5854
2600 5854
2680 5854
2840 5854
2910 5854
3020 5854
3120 5854
3160 5854
3230 5854
3330 5854
3400 5854
3470 5854
3540 5854
3640 5854
3720 5854
3820 5854
3890 5854
3950 5854
4100 5854
4200 5854
4260 5854
4320 5854
4400 5854
4530 5854
4620 5854
4720 5854
4800 5854
4890 5854
4970 5854
5140 5854
5240 5854
5310 5854
5380 5854
5460 5854
5560 5854
5690 5854
5760 5854
5830 5854
5920 5854
6060 5854
6180 5854
6350 5854
6450 5854
6540 5854
6740 5854
6810 5854
6880 5854
6950 5854
7030 5854
7100 5854
7170 5854
7240 5854
7320 5854
7440 5854
7520 5854
7590 5854
7660 5854
7880 5854
8060 5854
8130 5854
8210 5854
8300 5854
8360 5854
8440 5854
8540 5854
8610 5854
8680 5854
8760 5854
8860 5854
8930 5854
9000 5854
9140 5854
9210 5854
9280 5854
9360 5854
9430 5854
9500 5854
9580 5854
9680 5854
9780 5854
20 5853
90 5853
150 5853
220 5853
290 5853
360 5853
500 5853
590 5853
660 5853
740 5853
820 5853
1060 5853
1140 5853
1220 5853
1450 5853
1520 5853
1600 5853
1840 5853
1910 5853
1980 5853
2040 5853
2240 5853
2410 5853
2500 5853
2660 5853
2780 5853
2850 5853
2920 5853
2990 5853
3110 5853
3170 5853
3240 5853
3380 5853
3450 5853
3540 5853
3610 5853
3720 5853
3800 5853
3880 5853
4040 5853
4120 5853
4210 5853
4330 5853
4420 5853
4490 5853
4560 5853
4700 5853
4760 5853
4940 5853
5020 5853
5180 5853
5240 5853
5390 5853
5480 5853
5550 5853
5620 5853
5690 5853
5980 5853
6060 5853
6130 5853
6200 5853
6280 5853
6360 5853
6430 5853
6510 5853
6580 5853
6720 5853
6790 5853
6860 5853
6960 5853
7040 5853
7120 5853
7200 5853
7300 5853
7430 5853
7510 5853
7620 5853
7690 5853
7760 5853
7840 5853
7920 5853
7990 5853
8060 5853
8200 5853
8260 5853
8340 5853
8400 5853
8470 5853
8550 5853
8620 5853
8690 5853
8760 5853
8830 5853
8950 5853
9000 5853
9220 5853
9280 5853
9400 5853
9470 5853
9550 5853
9620 5853
9700 5853
9780 5853
0 5852
60 5852
130 5852
250 5852
320 5852
390 5852
450 5852
530 5852
610 5852
680 5852
830 5852
900 5852
1000 5852
1210 5852
1280 5852
1340 5852
1510 5852
1580 5852
1640 5852
1730 5852
1800 5852
1900 5852
2100 5852
2160 5852
2240 5852
2340 5852
2610 5852
2680 5852
2800 5852
2890 5852
2970 5852
3040 5852
3120 5852
3190 5852
3260 5852
3330 5852
3500 5852
3570 5852
3640 5852
3710 5852
3780 5852
3840 5852
3940 5852
4000 5852
4070 5852
4140 5852
4280 5852
4340 5852
4470 5852
4570 5852
4640 5852
4840 5852
4950 5852
5020 5852
5100 5852
5180 5852
5240 5852
5390 5852
5460 5852
5530 5852
5600 5852
5680 5852
5760 5852
5830 5852
5990 5852
6060 5852
6150 5852
6230 5852
6300 5852
6370 5852
6480 5852
6550 5852
6700 5852
6780 5852
6850 5852
6930 5852
7000 5852
7080 5852
7160 5852
7240 5852
7340 5852
7430 5852
7640 5852
7700 5852
7900 5852
7970 5852
8040 5852
8180 5852
8290 5852
8370 5852
8480 5852
8560 5852
8640 5852
8700 5852
8770 5852
8850 5852
8960 5852
9030 5852
9180 5852
9340 5852
9400 5852
9460 5852
9530 5852
9600 5852
9660 5852
9720 5852
9790 5852
30 5851
90 5851
170 5851
220 5851
400 5851
520 5851
620 5851
680 5851
780 5851
880 5851
940 5851
1010 5851
1170 5851
1400 5851
1480 5851
1660 5851
1730 5851
1800 5851
1900 5851
1960 5851
2030 5851
2120 5851
2190 5851
2260 5851
2330 5851
2400 5851
2500 5851
2580 5851
2760 5851
2830 5851
2910 5851
2980 5851
3050 5851
3120 5851
3160 5851
3240 5851
3400 5851
3470 5851
3580 5851
3660 5851
3760 5851
3860 5851
3930 5851
4000 5851
4060 5851
4150 5851
4290 5851
4480 5851
4540 5851
4620 5851
4900 5851
4970 5851
5120 5851
5400 5851
5490 5851
5630 5851
5710 5851
5780 5851
5860 5851
5950 5851
6030 5851
6130 5851
6200 5851
6280 5851
6420 5851
6490 5851
6560 5851
6640 5851
6720 5851
6780 5851
6850 5851
6960 5851
7030 5851
7100 5851
7190 5851
7270 5851
7410 5851
7480 5851
7550 5851
7620 5851
7880 5851
8000 5851
8080 5851
8310 5851
8370 5851
8530 5851
8600 5851
8670 5851
8780 5851
8840 5851
8960 5851
9100 5851
9180 5851
9280 5851
9360 5851
9450 5851
9520 5851
9600 5851
9680 5851
9760 5851
80 5850
160 5850
230 5850
300 5850
360 5850
450 5850
520 5850
590 5850
660 5850
850 5850
1040 5850
1120 5850
1310 5850
1380 5850
1450 5850
1530 5850
1600 5850
1660 5850
1730 5850
1800 5850
1960 5850
2090 5850
2220 5850
2310 5850
2400 5850
2520 5850
2660 5850
2860 5850
2960 5850
3150 5850
3210 5850
3360 5850
3430 5850
3510 5850
3610 5850
3700 5850
3770 5850
3890 5850
3960 5850
4040 5850
4160 5850
4230 5850
4390 5850
4590 5850
4660 5850
4750 5850
4950 5850
5110 5850
5290 5850
5380 5850
5500 5850
5580 5850
5680 5850
5760 5850
5900 5850
6020 5850
6100 5850
6170 5850
6310 5850
6420 5850
6540 5850
6600 5850
6790 5850
6880 5850
6960 5850
7110 5850
7220 5850
7320 5850
7400 5850
7520 5850
7680 5850
7760 5850
7880 5850
7960 5850
8060 5850
8240 5850
8340 5850
8480 5850
8570 5850
8640 5850
8720 5850
8880 5850
8950 5850
9020 5850
9240 5850
9310 5850
9440 5850
9520 5850
9760 5850
9840 5850
70 5849
340 5849
440 5849
510 5849
590 5849
660 5849
730 5849
820 5849
880 5849
1080 5849
1240 5849
1340 5849
1470 5849
1620 5849
1680 5849
1740 5849
1810 5849
1870 5849
1930 5849
2020 5849
2250 5849
2370 5849
2540 5849
2620 5849
2690 5849
2820 5849
3010 5849
3090 5849
3300 5849
3420 5849
3810 5849
3870 5849
3950 5849
4040 5849
4200 5849
4320 5849
4510 5849
4570 5849
4660 5849
4760 5849
4840 5849
5190 5849
5270 5849
5480 5849
5560 5849
5640 5849
5790 5849
5970 5849
6040 5849
6190 5849
6270 5849
6420 5849
6650 5849
6720 5849
6860 5849
6940 5849
7090 5849
7190 5849
7360 5849
7480 5849
7550 5849
7620 5849
7690 5849
7760 5849
7920 5849
8000 5849
8100 5849
8400 5849
8470 5849
8620 5849
8700 5849
8780 5849
8950 5849
9000 5849
9080 5849
9150 5849
9390 5849
9580 5849
9680 5849
9790 5849
40 5848
170 5848
460 5848
540 5848
780 5848
850 5848
1040 5848
1100 5848
1170 5848
1240 5848
1440 5848
1620 5848
1800 5848
1900 5848
2060 5848
2200 5848
2270 5848
2350 5848
2560 5848
2660 5848
2800 5848
2920 5848
3260 5848
3500 5848
3720 5848
3770 5848
3860 5848
3940 5848
4150 5848
4280 5848
4450 5848
4600 5848
4660 5848
4780 5848
4830 5848
4900 5848
5000 5848
5220 5848
5280 5848
5360 5848
5530 5848
5640 5848
5800 5848
6000 5848
6160 5848
6230 5848
6330 5848
6500 5848
6760 5848
6860 5848
7000 5848
7070 5848
7340 5848
7480 5848
7560 5848
7900 5848
8100 5848
8280 5848
8380 5848
8590 5848
8800 5848
8870 5848
9200 5848
9450 5848
9510 5848
9600 5848
9690 5848
80 5847
150 5847
270 5847
340 5847
600 5847
760 5847
820 5847
900 5847
980 5847
1060 5847
1130 5847
1200 5847
1360 5847
1580 5847
1660 5847
1840 5847
1930 5847
2000 5847
2080 5847
2220 5847
2320 5847
2520 5847
2600 5847
2680 5847
2880 5847
3040 5847
3150 5847
3270 5847
3340 5847
3410 5847
3600 5847
3700 5847
3790 5847
3860 5847
3940 5847
4020 5847
4100 5847
4180 5847
4360 5847
4450 5847
4600 5847
4680 5847
4730 5847
5110 5847
5180 5847
5300 5847
5380 5847
5510 5847
5700 5847
5810 5847
5960 5847
6000 5847
6150 5847
6290 5847
6480 5847
6700 5847
6830 5847
7060 5847
7220 5847
7260 5847
7390 5847
7480 5847
7590 5847
7750 5847
7900 5847
8020 5847
8090 5847
8170 5847
8250 5847
8340 5847
8440 5847
8560 5847
9030 5847
9110 5847
9290 5847
9490 5847
9620 5847
9690 5847
9780 5847
120 5846
230 5846
520 5846
600 5846
710 5846
1100 5846
1170 5846
1300 5846
1470 5846
1600 5846
1880 5846
1950 5846
2030 5846
2150 5846
2600 5846
2760 5846
2850 5846
2930 5846
3030 5846
3130 5846
3200 5846
3350 5846
3420 5846
3640 5846
3720 5846
4060 5846
4700 5846
4760 5846
4850 5846
4950 5846
5080 5846
5220 5846
5500 5846
5620 5846
5770 5846
5840 5846
5960 5846
6060 5846
6810 5846
6880 5846
7000 5846
7100 5846
7170 5846
7240 5846
7370 5846
7460 5846
7610 5846
7970 5846
8030 5846
8280 5846
8560 5846
8660 5846
8880 5846
8960 5846
9110 5846
9220 5846
9600 5846
9660 5846
9750 5846
12 5845
48 5845
132 5845
172 5845
212 5845
252 5845
288 5845
408 5845
516 5845
552 5845
696 5845
744 5845
828 5845
900 5845
936 5845
1044 5845
1092 5845
1140 5845
1188 5845
1284 5845
1392 5845
1824 5845
1848 5845
1920 5845
2004 5845
2044 5845
2084 5845
2124 5845
2196 5845
2292 5845
2412 5845
2640 5845
2784 5845
2868 5845
2952 5845
3232 5845
3328 5845
3388 5845
3448 5845
3568 5845
3668 5845
3748 5845
3880 5845
3928 5845
4168 5845
4228 5845
4288 5845
4348 5845
4456 5845
4684 5845
4756 5845
4888 5845
4948 5845
5092 5845
5188 5845
5272 5845
5368 5845
5416 5845
5536 5845
5692 5845
5752 5845
5828 5845
5888 5845
5936 5845
6076 5845
6196 5845
6256 5845
6352 5845
6412 5845
6508 5845
6568 5845
6740 5845
6860 5845
6908 5845
7412 5845
7496 5845
7592 5845
7700 5845
7772 5845
7892 5845
7952 5845
8040 5845
8120 5845
8200 5845
8276 5845
8372 5845
8468 5845
8636 5845
8720 5845
8864 5845
8960 5845
9104 5845
9228 5845
9284 5845
9356 5845
9428 5845
9548 5845
9656 5845
9740 5845
9800 5845
324 5844
348 5844
852 5844
1080 5844
1308 5844
1536 5844
1644 5844
1776 5844
1872 5844
1968 5844
2016 5844
2196 5844
2436 5844
2568 5844
2628 5844
2808 5844
2904 5844
2964 5844
3024 5844
3148 5844
3268 5844
3316 5844
3436 5844
3508 5844
3580 5844
3712 5844
3748 5844
3820 5844
3976 5844
4060 5844
4144 5844
4396 5844
4636 5844
4672 5844
4840 5844
4912 5844
4948 5844
5044 5844
5116 5844
5248 5844
5296 5844
5380 5844
5608 5844
5656 5844
5716 5844
5788 5844
6016 5844
6112 5844
6184 5844
6232 5844
6364 5844
6484 5844
6824 5844
7136 5844
7472 5844
7760 5844
7880 5844
7940 5844
7988 5844
8048 5844
8120 5844
8264 5844
8372 5844
8444 5844
8552 5844
8636 5844
8708 5844
8912 5844
8996 5844
9152 5844
9296 5844
9608 5844
9764 5844
9800 5844
36 5843
156 5843
264 5843
360 5843
420 5843
468 5843
588 5843
624 5843
684 5843
912 5843
960 5843
1080 5843
1128 5843
1404 5843
1512 5843
1572 5843
1632 5843
1668 5843
1728 5843
1776 5843
1812 5843
1896 5843
2232 5843
2256 5843
2364 5843
2532 5843
2592 5843
2640 5843
2748 5843
2796 5843
3048 5843
3096 5843
3136 5843
3352 5843
3616 5843
3700 5843
3904 5843
4216 5843
4336 5843
4624 5843
4696 5843
4756 5843
4804 5843
4852 5843
4900 5843
5104 5843
5248 5843
5284 5843
5356 5843
5404 5843
5476 5843
5524 5843
5620 5843
5788 5843
5956 5843
5992 5843
6172 5843
6328 5843
6604 5843
6676 5843
6740 5843
6800 5843
6884 5843
7064 5843
7400 5843
7460 5843
7556 5843
7628 5843
7700 5843
7760 5843
7976 5843
8048 5843
8204 5843
8348 5843
8528 5843
8696 5843
8840 5843
8900 5843
9140 5843
9188 5843
9308 5843
9380 5843
9476 5843
9572 5843
9764 5843
9812 5843
0 5842
288 5842
384 5842
528 5842
564 5842
852 5842
900 5842
948 5842
1044 5842
1152 5842
1320 5842
1368 5842
1512 5842
1692 5842
1728 5842
1776 5842
2148 5842
2196 5842
2268 5842
2604 5842
2664 5842
2712 5842
3048 5842
3160 5842
3592 5842
3856 5842
3976 5842
4432 5842
4900 5842
5008 5842
5032 5842
5476 5842
5668 5842
6088 5842
6136 5842
6256 5842
6616 5842
7064 5842
7100 5842
7532 5842
7652 5842
7712 5842
7760 5842
7880 5842
8252 5842
8324 5842
8432 5842
8852 5842
8888 5842
9392 5842
9428 5842
9812 5842
144 5841
180 5841
624 5841
948 5841
984 5841
1272 5841
1380 5841
1428 5841
1536 5841
1800 5841
1896 5841
2088 5841
2136 5841
2832 5841
3184 5841
3628 5841
3676 5841
3724 5841
3796 5841
3880 5841
4120 5841
4468 5841
4564 5841
4732 5841
5284 5841
5332 5841
5608 5841
5968 5841
6184 5841
6448 5841
6532 5841
6652 5841
6752 5841
6788 5841
7232 5841
7460 5841
7748 5841
7892 5841
8096 5841
8168 5841
8228 5841
8288 5841
8420 5841
8468 5841
8912 5841
9308 5841
9692 5841
9740 5841
9788 5841
12 5840
132 5840
312 5840
384 5840
516 5840
720 5840
960 5840
1032 5840
1176 5840
1392 5840
1536 5840
1632 5840
1716 5840
1764 5840
1884 5840
1920 5840
2004 5840
2304 5840
2556 5840
2676 5840
2760 5840
2796 5840
2856 5840
3172 5840
3472 5840
4048 5840
4096 5840
4192 5840
4276 5840
4468 5840
4516 5840
4612 5840
4708 5840
4984 5840
5332 5840
5524 5840
5584 5840
5644 5840
5692 5840
5848 5840
6196 5840
6388 5840
6544 5840
6580 5840
6752 5840
6956 5840
6980 5840
7508 5840
7880 5840
7952 5840
8264 5840
8288 5840
8492 5840
8540 5840
9092 5840
9116 5840
9644 5840
9716 5840
0 5839
168 5839
252 5839
372 5839
744 5839
972 5839
1032 5839
1332 5839
1416 5839
1464 5839
1608 5839
1680 5839
1752 5839
1908 5839
1980 5839
2064 5839
2220 5839
2268 5839
2508 5839
2616 5839
3048 5839
3568 5839
3700 5839
3784 5839
4396 5839
4948 5839
5188 5839
5248 5839
5980 5839
6256 5839
6340 5839
6388 5839
6944 5839
7016 5839
7088 5839
7148 5839
7244 5839
7604 5839
7808 5839
7832 5839
8072 5839
8216 5839
8324 5839
8444 5839
8576 5839
8672 5839
8840 5839
9044 5839
9344 5839
24 5838
84 5838
324 5838
588 5838
660 5838
1128 5838
1248 5838
1512 5838
1836 5838
2484 5838
3208 5838
3556 5838
3604 5838
3700 5838
3748 5838
3940 5838
3964 5838
4036 5838
4192 5838
4528 5838
4648 5838
5128 5838
5332 5838
5644 5838
5860 5838
6124 5838
6316 5838
6520 5838
6652 5838
6676 5838
6912 5838
6932 5838
7232 5838
7268 5838
7532 5838
7916 5838
8000 5838
8024 5838
8108 5838
8204 5838
8312 5838
8336 5838
8528 5838
8912 5838
9044 5838
9104 5838
9164 5838
9224 5838
9668 5838
9704 5838
9860 5838
132 5837
216 5837
288 5837
936 5837
1584 5837
1608 5837
1752 5837
2448 5837
2532 5837
2580 5837
2928 5837
3652 5837
4072 5837
4132 5837
4252 5837
4972 5837
5476 5837
5548 5837
6004 5837
6292 5837
6716 5837
6980 5837
7376 5837
7544 5837
7616 5837
7868 5837
7928 5837
8312 5837
8348 5837
8540 5837
8576 5837
9692 5837
9836 5837
144 5836
432 5836
492 5836
576 5836
780 5836
888 5836
984 5836
1152 5836
1344 5836
1596 5836
1620 5836
2244 5836
2268 5836
3116 5836
3124 5836
3160 5836
3196 5836
3952 5836
4276 5836
5032 5836
5212 5836
5488 5836
6124 5836
7196 5836
7952 5836
8024 5836
8048 5836
8288 5836
8384 5836
8492 5836
9020 5836
9068 5836
9284 5836
9368 5836
9620 5836
9668 5836
372 5835
636 5835
876 5835
1476 5835
1692 5835
1788 5835
1884 5835
2160 5835
2208 5835
2796 5835
3832 5835
4324 5835
4696 5835
4756 5835
4852 5835
5260 5835
5500 5835
5692 5835
7172 5835
7484 5835
7520 5835
7724 5835
7928 5835
8156 5835
8684 5835
8708 5835
8864 5835
9260 5835
9620 5835
9656 5835
48 5834
300 5834
684 5834
768 5834
924 5834
1236 5834
1356 5834
1392 5834
1488 5834
1524 5834
1836 5834
1884 5834
1920 5834
2472 5834
2496 5834
2916 5834
3096 5834
3108 5834
3916 5834
4384 5834
4600 5834
5428 5834
5716 5834
6028 5834
6112 5834
7076 5834
7760 5834
7832 5834
7928 5834
7988 5834
8036 5834
8132 5834
9068 5834
9824 5834
360 5833
828 5833
888 5833
1044 5833
1944 5833
2328 5833
3316 5833
3676 5833
4564 5833
4732 5833
4924 5833
5668 5833
5800 5833
6172 5833
6544 5833
6752 5833
7040 5833
7196 5833
7220 5833
7640 5833
7820 5833
8204 5833
8564 5833
9104 5833
9596 5833
9848 5833
684 5832
1116 5832
1608 5832
2028 5832
2364 5832
3000 5832
3496 5832
3664 5832
4504 5832
5224 5832
5284 5832
5812 5832
6508 5832
6640 5832
6812 5832
7124 5832
7736 5832
9320 5832
9416 5832
9836 5832
1716 5831
2868 5831
3340 5831
3448 5831
3916 5831
4432 5831
5452 5831
6292 5831
7028 5831
7988 5831
8132 5831
8432 5831
8732 5831
9680 5831
48 5830
444 5830
1296 5830
1440 5830
1572 5830
2160 5830
2880 5830
5272 5830
5500 5830
6244 5830
6992 5830
7604 5830
7748 5830
8480 5830
8792 5830
36 5829
1104 5829
2376 5829
5752 5829
6220 5829
7436 5829
8828 5829
9656 5829
924 5828
1068 5828
3652 5828
5260 5828
5752 5828
8768 5828
3544 5827
3592 5827
4024 5827
6472 5827
7724 5827
8048 5827
8192 5827
9176 5827
156 5826
1044 5826
1080 5826
1368 5826
6708 5826
8456 5826
2040 5825
4624 5825
9056 5825
1224 5824
2904 5824
3796 5824
5848 5824
7100 5824
2568 5823
3484 5823
6304 5823
9848 5823
7856 5820
2508 5819
8432 5813
}\samples
\begin{document}
\begin{tikzpicture}
\path[use as bounding box] (-58.32bp,-41.76bp) rectangle (661.68bp,678.24bp);
\begin{axis}[
scale only axis,width=650.88bp,height=652.32bp,
xmin=-483,xmax=10343,ymin=5807.9,ymax=5920.1,
xtick={0,2000,4000,6000,8000,10000},ytick={5820,5840,5860,5880,5900,5920},
scaled ticks=false,
/pgf/number format/.cd,assume math mode=true,1000 sep={},
/pgfplots/.cd,
tick style={black,line width=0.6bp},tick align=outside,major tick length=3.5bp,
xtick pos=bottom,ytick pos=left,
grid=major,grid style={color={rgb,255:red,176;green,176;blue,176},line width=0.6bp},
axis line style={line width=0.6bp},
tick label style={font=\fontsize{10}{12}\selectfont},
label style={font=\fontsize{10}{12}\selectfont},
title style={font=\fontsize{12}{14}\selectfont,at={(0.5,1)},anchor=south,yshift=-5.6bp},
title={Run 498, channel022, Pedestal},
xlabel={Sample \#},ylabel={ADC Counts},
xlabel style={at={(0.5,0)},anchor=north,yshift=-18.3bp},
ylabel style={at={(0,0.5)},anchor=south,rotate=0,yshift=36bp},
legend style={at={(1,1)},anchor=north east,xshift=-4.8bp,yshift=-4.3bp,draw={rgb,255:red,204;green,204;blue,204},fill=white,fill opacity=0.8,text opacity=1,rounded corners=2bp,font=\fontsize{10}{12}\selectfont,inner xsep=5.5bp,inner ysep=4.4bp,nodes={inner sep=0pt,text depth=},column sep=9.5bp},
legend cell align=left,
legend image code/.code={\path (0cm,0cm) (0.6cm,0cm);\draw[mark repeat=2,mark phase=2,#1] plot coordinates {(0cm,0cm)(0.3cm,0cm)(0.6cm,0cm)};},
]
\addplot[only marks,mark=*,mark size=1.6bp,line width=0.8bp,mark options={draw=black,fill=black}] table[x=x,y=y] {\samples};
\addlegendentry{\begin{tabular}{@{}l@{}}Samples\\$\mu$ = 5863.55, $\sigma$ = 13.47\end{tabular}}
\end{axis}
\end{tikzpicture}
\end{document}
